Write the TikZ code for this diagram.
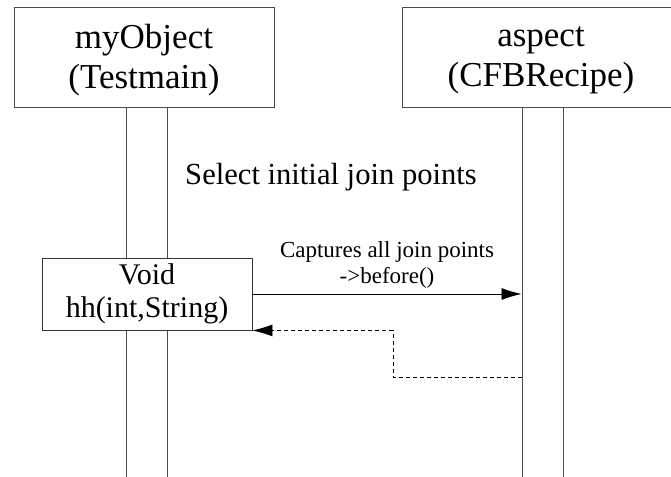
\documentclass[tikz,border=0pt]{standalone}
\usepackage{fontspec}
\setmainfont{Liberation Serif}
\usepackage{tikz}
\usetikzlibrary{positioning,calc,arrows.meta}

\tikzset{
  objbox/.style={draw=black!70, line width=0.9pt, minimum width=260pt, minimum height=100pt, align=center, inner sep=0pt, font=\fontsize{35}{40}\selectfont},
  lifebar/.style={draw=black!70, line width=0.9pt, minimum width=41pt, inner sep=0pt},
  actbox/.style={draw=black!80, line width=0.9pt, fill=white, minimum width=210pt, minimum height=72pt, align=center, inner sep=0pt, font=\fontsize{30}{33}\selectfont},
  msg/.style={line width=0.8pt, -{Latex[length=20pt,width=12pt]}},
}

\begin{document}
\begin{tikzpicture}[x=1pt, y=-1pt]
  \useasboundingbox (0,0) rectangle (671,476);
  \clip (0,0) rectangle (671,476);

  % Objects
  \node[objbox] (objA) at (144,57) {};
  \node[objbox, minimum width=281pt] (objB) at (542.5,57) {};
  \node[align=center, font=\fontsize{35}{40}\selectfont] (nameA) at (144,60) {myObject\\(Testmain)};
  \node[align=center, font=\fontsize{35}{40}\selectfont] (nameB) at (541,60) {aspect\\(CFBRecipe)};

  % Lifelines
  \node[lifebar, minimum height=380pt, anchor=north] (lifeA) at (objA.south -| 147,0) {};
  \node[lifebar, minimum height=380pt, anchor=north] (lifeB) at (objB.south) {};

  % Activation on myObject
  \node[actbox] (act) at (147,294) {Void\\hh(int,String)};

  % Note
  \node[font=\fontsize{30.6}{33}\selectfont] (sel) at (331,177) {Select initial join points};

  % Call to the aspect
  \draw[msg] (act.east) -- (act.east -| lifeB.west)
    node[midway, above=2pt, align=center, font=\fontsize{23}{26}\selectfont] (cap) {Captures all join points\\->before()};

  % Return
  \coordinate (ret) at (393,377);
  \draw[msg, dashed, line width=0.6pt, dash pattern=on 4pt off 3pt] (ret -| lifeB.west) -- (ret) |- (act.south east);
\end{tikzpicture}
\end{document}
